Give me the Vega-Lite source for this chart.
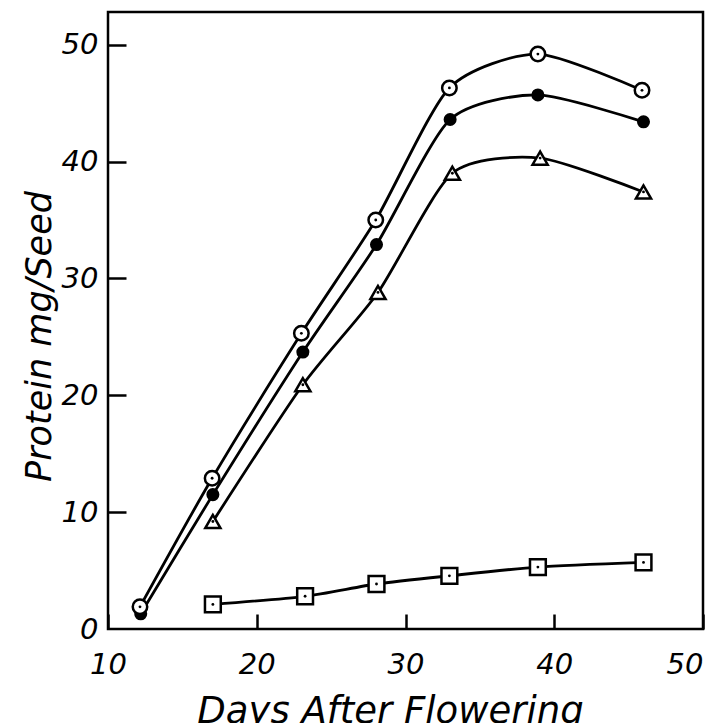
{
  "$schema": "https://vega.github.io/schema/vega-lite/v6.json",
  "width": 595,
  "height": 617,
  "autosize": {"type": "none"},
  "padding": {"left": 108, "top": 12, "right": 9, "bottom": 94},
  "background": "white",
  "config": {
    "view": {"stroke": "black", "strokeWidth": 2.5},
    "axis": {
      "domain": false,
      "labelFont": "DejaVu Sans",
      "labelFontStyle": "oblique",
      "labelFontSize": 29,
      "labelColor": "black",
      "titleFont": "DejaVu Sans",
      "titleFontStyle": "oblique",
      "titleFontWeight": "normal",
      "titleColor": "black"
    }
  },
  "data": {
    "values": [
      {"series": "A", "day": 12.15, "protein": 1.9},
      {"series": "A", "day": 17.0, "protein": 12.9},
      {"series": "A", "day": 23.0, "protein": 25.3},
      {"series": "A", "day": 28.0, "protein": 35.0},
      {"series": "A", "day": 32.95, "protein": 46.3},
      {"series": "A", "day": 38.9, "protein": 49.2},
      {"series": "A", "day": 45.9, "protein": 46.1},
      {"series": "B", "day": 12.2, "protein": 1.3},
      {"series": "B", "day": 17.05, "protein": 11.5},
      {"series": "B", "day": 23.1, "protein": 23.7},
      {"series": "B", "day": 28.05, "protein": 32.9},
      {"series": "B", "day": 33.0, "protein": 43.6},
      {"series": "B", "day": 38.9, "protein": 45.7},
      {"series": "B", "day": 46.0, "protein": 43.4},
      {"series": "C", "day": 17.05, "protein": 9.2},
      {"series": "C", "day": 23.1, "protein": 20.9},
      {"series": "C", "day": 28.15, "protein": 28.8},
      {"series": "C", "day": 33.15, "protein": 39.0},
      {"series": "C", "day": 39.05, "protein": 40.3},
      {"series": "C", "day": 46.0, "protein": 37.4},
      {"series": "D", "day": 17.05, "protein": 2.1},
      {"series": "D", "day": 23.25, "protein": 2.8},
      {"series": "D", "day": 28.05, "protein": 3.85},
      {"series": "D", "day": 32.95, "protein": 4.55},
      {"series": "D", "day": 38.9, "protein": 5.3},
      {"series": "D", "day": 46.0, "protein": 5.7}
    ]
  },
  "encoding": {
    "x": {
      "field": "day",
      "type": "quantitative",
      "scale": {"domain": [10, 50], "nice": false, "zero": false},
      "axis": {
        "title": "Days After Flowering",
        "titleFontSize": 37,
        "titleX": 282,
        "titleY": 93,
        "titleBaseline": "alphabetic",
        "titleAlign": "center",
        "values": [10, 20, 30, 40, 50],
        "grid": true,
        "gridColor": "black",
        "gridOpacity": 1,
        "gridWidth": 2.5,
        "gridDash": [15, 2000],
        "gridDashOffset": 1413,
        "ticks": false,
        "labelPadding": 21,
        "labelFlush": false,
        "labelAlign": {"expr": "datum.value == 50 ? 'right' : 'center'"}
      }
    }
  },
  "layer": [
    {
      "encoding": {
        "y": {
          "field": "protein",
          "type": "quantitative",
          "scale": {"domain": [0, 52.8], "nice": false},
          "axis": {
            "title": "Protein mg/Seed",
            "titleFontSize": 35,
            "titleX": -58,
            "titleY": 324,
            "titleBaseline": "alphabetic",
            "titleAngle": 270,
            "titleAlign": "center",
            "values": [0, 10, 20, 30, 40, 50],
            "grid": false,
            "ticks": false,
            "labelPadding": 10,
            "labelFlush": false
          }
        }
      },
      "layer": [
        {
          "mark": {"type": "line", "interpolate": "cardinal", "tension": 0.3, "stroke": "black", "strokeWidth": 2.8},
          "encoding": {"detail": {"field": "series"}}
        },
        {
          "transform": [{"filter": "datum.series == 'B'"}],
          "mark": {"type": "circle", "color": "black", "opacity": 1, "size": 170}
        },
        {
          "transform": [{"filter": "datum.series != 'B'"}],
          "mark": {"type": "point", "filled": true, "fill": "white", "stroke": "black", "strokeWidth": 2.5, "opacity": 1},
          "encoding": {
            "shape": {
              "field": "series",
              "scale": {"domain": ["A", "C", "D"], "range": ["circle", "triangle-up", "square"]},
              "legend": null
            },
            "size": {
              "field": "series",
              "scale": {"domain": ["A", "C", "D"], "range": [210, 250, 200]},
              "legend": null
            }
          }
        },
        {
          "transform": [{"filter": "datum.series != 'B'"}],
          "mark": {"type": "circle", "color": "black", "opacity": 1, "size": 8}
        }
      ]
    },
    {
      "mark": {"type": "point", "opacity": 0},
      "encoding": {
        "y": {
          "field": "protein",
          "type": "quantitative",
          "scale": {"domain": [0, 52.8], "nice": false},
          "axis": {
            "orient": "right",
            "title": null,
            "labels": false,
            "ticks": false,
            "domain": false,
            "values": [10, 20, 30, 40, 50],
            "grid": true,
            "gridColor": "black",
            "gridOpacity": 1,
            "gridWidth": 2.5,
            "gridDash": [18, 2000],
            "gridDashOffset": 1441
          }
        }
      }
    }
  ],
  "resolve": {"scale": {"y": "independent"}, "axis": {"y": "independent"}}
}
